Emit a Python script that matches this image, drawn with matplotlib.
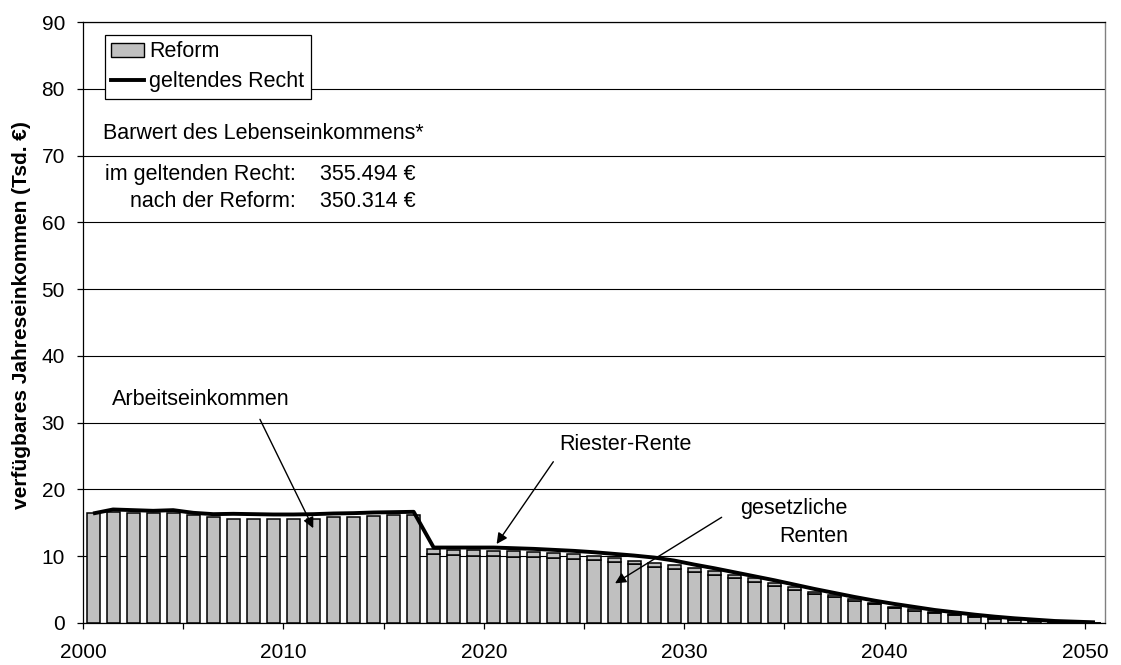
import matplotlib
matplotlib.use("Agg")
import matplotlib.pyplot as plt
import numpy as np
from matplotlib.patches import Patch
from matplotlib.lines import Line2D

plt.rcParams['font.family'] = ['Liberation Sans', 'DejaVu Sans']

# ---- data ----
jahre = list(range(2000, 2051))
arbeitseinkommen = [16.4, 16.6, 16.4, 16.4, 16.4, 16.1, 15.9, 15.5, 15.5, 15.5,
                    15.5, 15.5, 15.8, 15.9, 16.0, 16.1, 16.2]            # 2000-2016
gesetzliche_rente = [10.3, 10.25, 10.1, 10.05, 9.95, 9.9, 9.8, 9.6, 9.4, 9.1,
                     8.8, 8.45, 8.1, 7.7, 7.2, 6.7, 6.2, 5.6, 5.0, 4.35,
                     3.85, 3.3, 2.8, 2.2, 1.85, 1.5, 1.15, 0.9, 0.65, 0.45,
                     0.3, 0.18, 0.1, 0.05]                                # 2017-2050
riester_rente = [0.85, 0.75, 0.8, 0.8, 0.85, 0.8, 0.7, 0.7, 0.65, 0.65,
                 0.55, 0.6, 0.6, 0.6, 0.6, 0.55, 0.5, 0.45, 0.35, 0.35,
                 0.3, 0.25, 0.25, 0.25, 0.2, 0.18, 0.18, 0.15, 0.12, 0.1,
                 0.08, 0.06, 0.04, 0.02]                                  # 2017-2050
geltendes_recht = [16.4, 17.0, 16.9, 16.8, 16.9, 16.5, 16.3, 16.35, 16.3, 16.25,
                   16.25, 16.3, 16.4, 16.45, 16.55, 16.6, 16.65, 11.3, 11.3, 11.3,
                   11.3, 11.2, 11.1, 10.95, 10.8, 10.6, 10.35, 10.1, 9.8, 9.35,
                   8.75, 8.2, 7.6, 7.0, 6.4, 5.75, 5.1, 4.5, 3.9, 3.35,
                   2.85, 2.4, 1.95, 1.6, 1.25, 0.95, 0.7, 0.5, 0.3, 0.2, 0.1]
x_tick_labels = ['2000', '2010', '2020', '2030', '2040', '2050']
y_ticks = [0, 10, 20, 30, 40, 50, 60, 70, 80, 90]

# ---- figure ----
W, H = 1121, 665
FS = 15.5
fig = plt.figure(figsize=(W / 100, H / 100), dpi=100)
ax = fig.add_axes([83 / W, 1 - 623 / H, (1105 - 83) / W, (623 - 22) / H])

pos = np.array(jahre) + 0.5
n_arb = len(arbeitseinkommen)
unten = np.array(arbeitseinkommen + gesetzliche_rente)
oben = np.array([0.0] * n_arb + riester_rente)

grey = '#c0c0c0'
ax.bar(pos, unten, width=0.65, color=grey, edgecolor='black', linewidth=1.1, zorder=2)
ax.bar(pos[n_arb:], oben[n_arb:], bottom=unten[n_arb:], width=0.65, color=grey,
       edgecolor='black', linewidth=1.1, zorder=2)
ax.plot(pos, geltendes_recht, color='black', lw=2.8, solid_joinstyle='round',
        solid_capstyle='butt', zorder=3)

ax.set_xlim(2000, 2051)
ax.set_ylim(0, 90)
ax.set_yticks(y_ticks)
ax.set_yticklabels([str(v) for v in y_ticks])
ax.set_xticks([2000, 2010, 2020, 2030, 2040, 2050])
ax.set_xticklabels(x_tick_labels)
ax.set_xticks([2005, 2015, 2025, 2035, 2045], minor=True)
ax.tick_params(axis='x', which='both', direction='out', length=4.5, width=0.9,
               pad=10, labelsize=15, colors='black')
ax.tick_params(axis='y', direction='out', length=4.5, width=0.9, pad=8.5,
               labelsize=15)

ax.yaxis.grid(True, color='black', lw=0.8)
ax.set_axisbelow(True)
for s in ['left', 'bottom', 'top']:
    ax.spines[s].set_color('black')
    ax.spines[s].set_linewidth(0.9)
ax.spines['right'].set_color('#808080')
ax.spines['right'].set_linewidth(1.0)

fig.text(22 / W, 1 - 315 / H, 'verfügbares Jahreseinkommen (Tsd. €)', rotation=90,
         ha='center', va='center', fontsize=15, fontweight='bold')

# legend
handles = [Patch(facecolor=grey, edgecolor='black', linewidth=1.0),
           Line2D([0], [0], color='black', lw=2.8)]
leg = ax.legend(handles, ['Reform', 'geltendes Recht'], loc='upper left',
                bbox_to_anchor=((105 - 83) / 1022, 1 - (35 - 22) / 601),
                borderaxespad=0, fontsize=FS, frameon=True, fancybox=False,
                edgecolor='black', framealpha=1, borderpad=0.3, labelspacing=0.42,
                handlelength=1.5, handletextpad=0.25, handleheight=0.6)
leg.get_frame().set_linewidth(0.9)
leg.set_zorder(5)

# text block
yt = ax.get_yaxis_transform()
ax.text((103 - 83) / 1022, 73.3, 'Barwert des Lebenseinkommens*', transform=yt,
        ha='left', va='center', fontsize=FS)
ax.text((296 - 83) / 1022, 67.2, 'im geltenden Recht:', transform=yt,
        ha='right', va='center', fontsize=FS)
ax.text((320 - 83) / 1022, 67.2, '355.494 €', transform=yt,
        ha='left', va='center', fontsize=FS)
ax.text((296 - 83) / 1022, 63.1, 'nach der Reform:', transform=yt,
        ha='right', va='center', fontsize=FS)
ax.text((320 - 83) / 1022, 63.1, '350.314 €', transform=yt,
        ha='left', va='center', fontsize=FS)

# annotations
arrow = dict(arrowstyle='-|>', color='black', lw=1.0, mutation_scale=16,
             shrinkA=0, shrinkB=0)
ax.text(2005.89, 33.4, 'Arbeitseinkommen', ha='center', va='center', fontsize=FS, zorder=6)
ax.annotate('', xy=(2011.49, 14.2), xytext=(2008.83, 30.5), arrowprops=arrow, zorder=6)
ax.text(2027.05, 26.7, 'Riester-Rente', ha='center', va='center', fontsize=FS, zorder=6)
ax.annotate('', xy=(2020.64, 11.83), xytext=(2023.47, 24.15), arrowprops=arrow, zorder=6)
ax.text(2038.17, 17.1, 'gesetzliche', ha='right', va='center', fontsize=FS, zorder=6)
ax.text(2038.17, 13.0, 'Renten', ha='right', va='center', fontsize=FS, zorder=6)
ax.annotate('', xy=(2026.55, 5.94), xytext=(2031.87, 15.83), arrowprops=arrow, zorder=6)

fig.savefig('out.png', dpi=100)
